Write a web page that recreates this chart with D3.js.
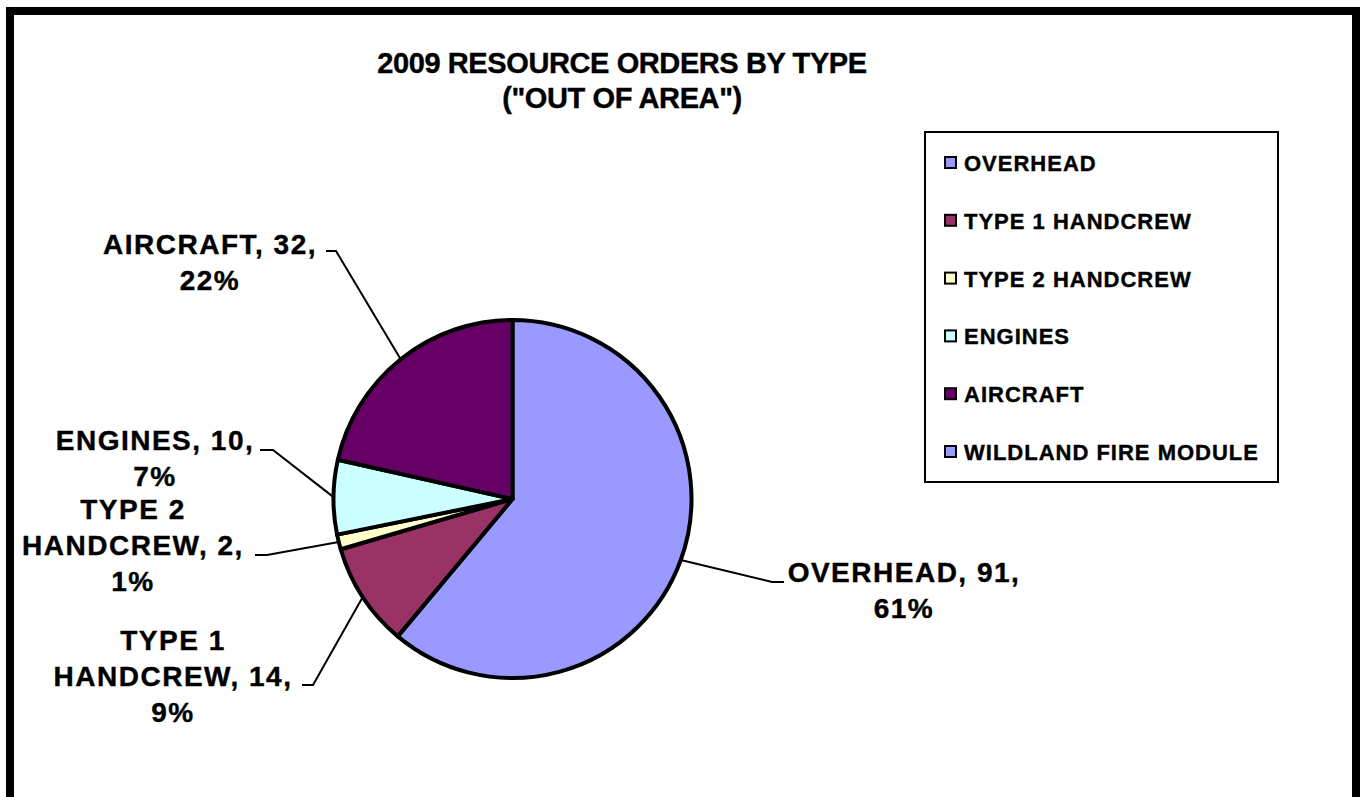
<!DOCTYPE html>
<html>
<head>
<meta charset="utf-8">
<script src="https://cdn.jsdelivr.net/npm/d3@7"></script>
<style>
  html, body { margin: 0; padding: 0; background: #fff; }
  svg { display: block; font-family: "Liberation Sans", Arial, sans-serif; font-weight: bold; }
  svg text { stroke: #000; stroke-width: 0.4px; }
</style>
</head>
<body>
<svg id="chart" width="1366" height="797"></svg>
<script>
// Resource orders by type, 2009 (out of area)
const categories = ["OVERHEAD", "TYPE 1 HANDCREW", "TYPE 2 HANDCREW", "ENGINES", "AIRCRAFT", "WILDLAND FIRE MODULE"];
const orders = [91, 14, 2, 10, 32, 0];
const sliceColors = ["#9999FF", "#993366", "#FFFFCC", "#CCFFFF", "#660066", "#9999FF"];
const titleLines = ["2009 RESOURCE ORDERS BY TYPE", "(\"OUT OF AREA\")"];

// Label placement for each slice (by index); slices without an entry get no label.
const labelLayout = {
  0: { cx: 904, y: 582, breakAfter: null, elbow: [772, 582], end: [784, 582] },
  1: { cx: 173, y: 650, breakAfter: "TYPE 1", elbow: [313, 685], end: [302, 685] },
  2: { cx: 133, y: 519, breakAfter: "TYPE 2", elbow: [267, 555], end: [255, 555] },
  3: { cx: 155, y: 450, breakAfter: null, elbow: [273, 450], end: [260, 450] },
  4: { cx: 210, y: 254, breakAfter: null, elbow: [336, 251], end: [326, 251] }
};

const svg = d3.select("#chart");

// Outer chart frame
svg.append("rect")
  .attr("x", 10).attr("y", 11)
  .attr("width", 1346).attr("height", 840)
  .attr("fill", "#fff").attr("stroke", "#000").attr("stroke-width", 8);

// Title
svg.append("g").selectAll("text")
  .data(titleLines)
  .join("text")
  .attr("x", 622)
  .attr("y", (d, i) => 73 + i * 35)
  .attr("text-anchor", "middle")
  .attr("font-size", 29)
  .attr("letter-spacing", -0.4)
  .attr("fill", "#000")
  .text(d => d);

// Percentages rounded so they add up to 100 (largest remainder)
const total = d3.sum(orders);
const raw = orders.map(v => v / total * 100);
const pct = raw.map(Math.floor);
let short = 100 - d3.sum(pct);
d3.range(raw.length)
  .sort((a, b) => (raw[b] - pct[b]) - (raw[a] - pct[a]))
  .forEach(i => { if (short > 0 && orders[i] > 0) { pct[i] += 1; short -= 1; } });

// Pie
const cx = 512.5, cy = 499, radius = 179;
const pie = d3.pie().sort(null).value(d => d.value);
const slices = pie(categories.map((c, i) => ({ name: c, value: orders[i], color: sliceColors[i], index: i })));
const arc = d3.arc().innerRadius(0).outerRadius(radius);
const edge = d3.arc().innerRadius(radius).outerRadius(radius);

const gPie = svg.append("g").attr("transform", `translate(${cx},${cy})`);
gPie.selectAll("path")
  .data(slices.filter(d => d.value > 0))
  .join("path")
  .attr("d", arc)
  .attr("fill", d => d.data.color)
  .attr("stroke", "#000")
  .attr("stroke-width", 4)
  .attr("stroke-linejoin", "round");

// Leader lines and data labels
const gLab = svg.append("g");
slices.forEach(d => {
  const lay = labelLayout[d.data.index];
  if (!lay) return;
  const p = edge.centroid(d);
  const pts = [[cx + p[0], cy + p[1]], lay.elbow, lay.end];
  gLab.append("path")
    .attr("d", d3.line()(pts))
    .attr("fill", "none")
    .attr("stroke", "#000")
    .attr("stroke-width", 2);

  const name = d.data.name;
  let lines;
  if (lay.breakAfter && name.startsWith(lay.breakAfter)) {
    lines = [lay.breakAfter, name.slice(lay.breakAfter.length).trim() + ", " + d.data.value + ","];
  } else {
    lines = [name + ", " + d.data.value + ","];
  }
  lines.push(pct[d.data.index] + "%");

  gLab.append("g").selectAll("text")
    .data(lines)
    .join("text")
    .attr("x", lay.cx)
    .attr("y", (t, i) => lay.y + i * 36)
    .attr("text-anchor", "middle")
    .attr("font-size", 28)
    .attr("letter-spacing", 1.5)
    .attr("fill", "#000")
    .text(t => t);
});

// Legend
const legend = svg.append("g");
legend.append("rect")
  .attr("x", 925).attr("y", 132)
  .attr("width", 353).attr("height", 350)
  .attr("fill", "#fff").attr("stroke", "#000").attr("stroke-width", 2);

const rowY = d3.scalePoint().domain(d3.range(categories.length)).range([163, 452]);
const rows = legend.selectAll("g.row")
  .data(categories.map((c, i) => ({ name: c, color: sliceColors[i], i })))
  .join("g").attr("class", "row")
  .attr("transform", d => `translate(0,${rowY(d.i)})`);
rows.append("rect")
  .attr("x", 945).attr("y", -6)
  .attr("width", 11).attr("height", 11)
  .attr("fill", d => d.color)
  .attr("stroke", "#000").attr("stroke-width", 2);
rows.append("text")
  .attr("x", 964).attr("y", 8)
  .attr("font-size", 22)
  .attr("letter-spacing", 1)
  .attr("fill", "#000")
  .text(d => d.name);
</script>
</body>
</html>
